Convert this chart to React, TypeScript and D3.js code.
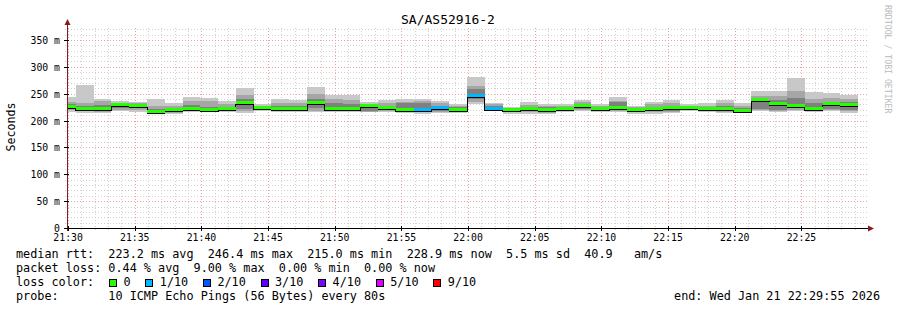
import React from 'react';
import * as d3 from 'd3';

// ---------- data ----------
const chartTitle = 'SA/AS52916-2';
const yAxisTitle = 'Seconds';
const watermark = 'RRDTOOL / TOBI OETIKER';

// median RTT per 80 s step (ms)
const medianMs = [
  225, 221, 222, 229, 227, 216, 219, 221, 219, 221,
  232, 223, 221, 222, 232, 221, 222, 227, 223, 219,
  219, 223, 219, 246.4, 221.5, 220, 221, 220, 221, 226.6,
  222, 224, 219, 220.6, 223, 223.4, 220.6, 221, 218.5, 238,
  230, 228, 220.6, 230, 228.9,
];
// loss colour index per step (0 = no loss, 1 = 1/10 ...)
const lossIdx = [
  0, 0, 0, 0, 0, 0, 0, 0, 0, 0,
  0, 0, 0, 0, 0, 0, 0, 0, 0, 0,
  1, 1, 0, 1, 1, 0, 0, 0, 0, 0,
  0, 0, 0, 0, 0, 0, 0, 0, 0, 0,
  0, 0, 0, 0, 0,
];
// smoke: outer band (lowest / highest ping)
const smokeLo1 = [
  216, 214, 214, 218, 216, 214, 212, 216, 215, 215,
  214, 218, 215, 216, 215, 216, 216, 215, 216, 214,
  213, 214, 214, 230, 218, 213, 212, 212, 215, 217,
  216, 216, 213, 212, 214, 218, 215, 214, 215, 217,
  215, 217, 215, 218, 214,
];
const smokeHi1 = [
  243, 267, 240, 236, 235, 241, 232, 244, 242, 237,
  261, 231, 241, 239, 262, 248, 248, 234, 238, 240,
  240, 236, 231, 282, 232, 226, 234, 230, 230, 238,
  230, 243, 228, 234, 239, 230, 232, 239, 232, 255,
  255, 280, 253, 251, 247,
];
// smoke: middle band
const smokeLo2 = [
  219, 217, 216, 220, 219, 215, 214, 218, 217, 217,
  217, 219, 217, 218, 218, 218, 218, 216, 218, 216,
  215, 216, 216, 235, 219, 215, 215, 214, 217, 219,
  218, 218, 215, 215, 216, 219, 217, 216, 216, 219,
  218, 220, 217, 220, 217,
];
const smokeHi2 = [
  235, 233, 236, 233, 233, 228, 228, 236, 236, 230,
  248, 228, 233, 232, 250, 240, 238, 231, 232, 235,
  236, 232, 228, 265, 230, 224, 229, 227, 227, 234,
  228, 237, 225, 230, 233, 228, 228, 233, 228, 246,
  245, 255, 240, 242, 240,
];
// smoke: inner band
const smokeLo3 = [
  222, 219, 219, 223, 223, 216, 217, 219, 218, 219,
  222, 220, 219, 219, 224, 219, 219, 217, 220, 217,
  216, 218, 217, 240, 220, 217, 217, 216, 218, 221,
  219, 219, 216, 217, 217, 220, 218, 218, 217, 221,
  220, 224, 218, 222, 220,
];
const smokeHi3 = [
  230, 228, 229, 231, 230, 222, 224, 229, 226, 225,
  240, 226, 227, 227, 240, 232, 230, 226, 228, 232,
  233, 228, 225, 258, 228, 222, 225, 225, 224, 230,
  226, 234, 222, 225, 228, 226, 225, 228, 224, 240,
  238, 242, 232, 235, 235,
];

const lossColors = ['#26ff00', '#00b8ff', '#0059ff', '#5e00ff', '#7e00ff', '#dd00ff', '#ff0000'];
const lossLabels = ['0', '1/10', '2/10', '3/10', '4/10', '5/10', '9/10'];

const yTickValues = [0, 50, 100, 150, 200, 250, 300, 350];
const yTickLabels = ['0', '50 m', '100 m', '150 m', '200 m', '250 m', '300 m', '350 m'];

const statsLine1 = 'median rtt:  223.2 ms avg  246.4 ms max  215.0 ms min  228.9 ms now  5.5 ms sd  40.9   am/s';
const statsLine2 = 'packet loss: 0.44 % avg  9.00 % max  0.00 % min  0.00 % now';
const statsLine3 = 'loss color:';
const statsLine4 = 'probe:       10 ICMP Echo Pings (56 Bytes) every 80s';
const endLabel = 'end: Wed Jan 21 22:29:55 2026';

const tStart = new Date(2026, 0, 21, 21, 29, 55);
const tEnd = new Date(2026, 0, 21, 22, 29, 55);
const firstBoundary = new Date(2026, 0, 21, 21, 30, 35);
const stepSeconds = 80;

// ---------- layout ----------
const W = 897;
const H = 310;
const X0 = 67;
const X1 = 867;
const Y0 = 228;
const YTOP = 26;
const MONO = '"DejaVu Sans Mono", "Liberation Mono", monospace';
const CH = 7.1; // legend char width

const nb = (s: string) => s.replace(/ /g, '\u00a0');

export default function App() {
  const x = d3.scaleTime().domain([tStart, tEnd]).range([X0, X1]);
  const y = d3.scaleLinear().domain([0, 376]).range([Y0, YTOP]);

  const stepBounds = medianMs.map((_, i) => {
    if (i === 0) return [tStart, firstBoundary];
    const s = new Date(firstBoundary.getTime() + (i - 1) * stepSeconds * 1000);
    const e = new Date(s.getTime() + stepSeconds * 1000);
    return [s, e];
  });

  const minorX = d3.timeMinute.every(1)!.range(tStart, tEnd);
  const majorX = d3.timeMinute.every(5)!.range(tStart, tEnd);
  const minorY = d3.range(10, 376, 10).filter((v) => v % 50 !== 0);
  const majorY = yTickValues.filter((v) => v > 0);
  const fmt = d3.timeFormat('%H:%M');

  const bands: [number[], number[], string][] = [
    [smokeLo1, smokeHi1, '#c8c8c8'],
    [smokeLo2, smokeHi2, '#a6a6a6'],
    [smokeLo3, smokeHi3, '#808080'],
  ];

  const linePts: [Date, number][] = medianMs.map((m, i) => [stepBounds[i][0], m]);
  linePts.push([stepBounds[medianMs.length - 1][1], medianMs[medianMs.length - 1]]);
  const medLine = d3
    .line<[Date, number]>()
    .x((d) => x(d[0]))
    .y((d) => Math.round(y(d[1])) + 1.5)
    .curve(d3.curveStepAfter)(linePts);

  // legend box positions
  const boxXs: number[] = [];
  let bx = 109;
  lossLabels.forEach((l) => {
    boxXs.push(bx);
    bx += 14.5 + l.length * CH + 14.7;
  });

  return (
    <svg
      width={W}
      height={H}
      style={{ position: 'absolute', left: 0, top: 0, background: '#fff' }}
      fontFamily={MONO}
    >
      <rect x={0} y={0} width={W} height={H} fill="#fff" />
      <text x={448} y={24} fontSize={13} textAnchor="middle" fill="#000">
        {chartTitle}
      </text>
      <text
        transform={`translate(887,5) rotate(90)`}
        fontSize={8.2}
        fill="#bbbbbb"
        textAnchor="start"
        dominantBaseline="middle"
      >
        {nb(watermark)}
      </text>

      {/* grid */}
      <g shapeRendering="crispEdges" strokeWidth={1} strokeDasharray="1,2">
        {minorY.map((v) => (
          <line key={'my' + v} x1={X0 - 2} x2={X1} y1={Math.round(y(v)) + 0.5} y2={Math.round(y(v)) + 0.5} stroke="#d2d2d2" />
        ))}
        {minorX.filter((t) => t.getMinutes() % 5 !== 0).map((t) => (
          <line key={'mx' + t.getTime()} y1={Y0 + 2} y2={YTOP} x1={Math.round(x(t)) + 0.5} x2={Math.round(x(t)) + 0.5} stroke="#d2d2d2" />
        ))}
        {majorY.map((v) => (
          <line key={'My' + v} x1={X0 - 2} x2={X1} y1={Math.round(y(v)) + 0.5} y2={Math.round(y(v)) + 0.5} stroke="#eaa0a0" />
        ))}
        {majorX.map((t) => (
          <line key={'Mx' + t.getTime()} y1={Y0 + 2} y2={YTOP} x1={Math.round(x(t)) + 0.5} x2={Math.round(x(t)) + 0.5} stroke="#eaa0a0" />
        ))}
      </g>

      {/* smoke */}
      <g shapeRendering="crispEdges">
        {bands.map(([lo, hi, col], bi) =>
          medianMs.map((_, i) => {
            const xa = Math.round(x(stepBounds[i][0]));
            const xb = Math.round(x(stepBounds[i][1]));
            const ya = Math.round(y(hi[i]));
            const yb = Math.round(y(lo[i]));
            return <rect key={bi + '-' + i} x={xa} y={ya} width={xb - xa} height={yb - ya} fill={col} />;
          })
        )}
      </g>

      {/* median */}
      <path d={medLine ?? ''} fill="none" stroke="#000" strokeWidth={1} shapeRendering="crispEdges" />
      <g shapeRendering="crispEdges">
        {medianMs.map((m, i) => {
          const xa = Math.round(x(stepBounds[i][0]));
          const xb = Math.round(x(stepBounds[i][1]));
          const yc = Math.round(y(m));
          return <rect key={'med' + i} x={xa} y={yc - 2} width={xb - xa} height={3} fill={lossColors[lossIdx[i]]} />;
        })}
      </g>

      {/* axes */}
      <g shapeRendering="crispEdges">
        <line x1={X0 - 2} x2={X1 + 3} y1={Y0 + 0.5} y2={Y0 + 0.5} stroke="#000" />
        <line x1={X0 + 0.5} x2={X0 + 0.5} y1={Y0 + 3} y2={YTOP - 4} stroke="#7a2020" />
        {majorX.map((t) => (
          <line key={'tx' + t.getTime()} x1={Math.round(x(t)) + 0.5} x2={Math.round(x(t)) + 0.5} y1={Y0 - 2} y2={Y0 + 3} stroke="#000" />
        ))}
        {yTickValues.map((v) => (
          <line key={'ty' + v} x1={X0 - 3} x2={X0 + 2} y1={Math.round(y(v)) + 0.5} y2={Math.round(y(v)) + 0.5} stroke="#000" />
        ))}
      </g>
      <path d={`M${X1 + 7},${Y0 + 0.5} L${X1 + 1},${Y0 - 2.5} L${X1 + 1},${Y0 + 3.5} Z`} fill="#8b1a1a" />
      <path d={`M${X0 + 0.5},${YTOP - 7} L${X0 - 2.5},${YTOP - 1} L${X0 + 3.5},${YTOP - 1} Z`} fill="#8b1a1a" />

      {/* tick labels */}
      <g fontSize={9.8} fill="#000">
        {yTickValues.map((v, i) => (
          <text key={'yl' + v} x={60} y={Math.round(y(v)) + 3.5} textAnchor="end">
            {nb(yTickLabels[i])}
          </text>
        ))}
        {majorX.map((t) => (
          <text key={'xl' + t.getTime()} x={x(t)} y={241} textAnchor="middle">
            {fmt(t)}
          </text>
        ))}
      </g>
      <text
        transform={`translate(15,127) rotate(-90)`}
        fontSize={11.6}
        textAnchor="middle"
        fill="#000"
      >
        {yAxisTitle}
      </text>

      {/* legend */}
      <g fontSize={11.8} fill="#000">
        <text x={16} y={257.5}>{nb(statsLine1)}</text>
        <text x={16} y={271.5}>{nb(statsLine2)}</text>
        <text x={16} y={285.5}>{nb(statsLine3)}</text>
        <text x={16} y={299.5}>{nb(statsLine4)}</text>
        <text x={880} y={299.5} textAnchor="end">{nb(endLabel)}</text>
        {lossLabels.map((l, i) => (
          <g key={'lg' + i}>
            <rect x={boxXs[i] + 0.5} y={279.5} width={7} height={7} fill={lossColors[i]} stroke="#000" strokeWidth={1} shapeRendering="crispEdges" />
            <text x={boxXs[i] + 14.5} y={285.5}>{l}</text>
          </g>
        ))}
      </g>
    </svg>
  );
}
